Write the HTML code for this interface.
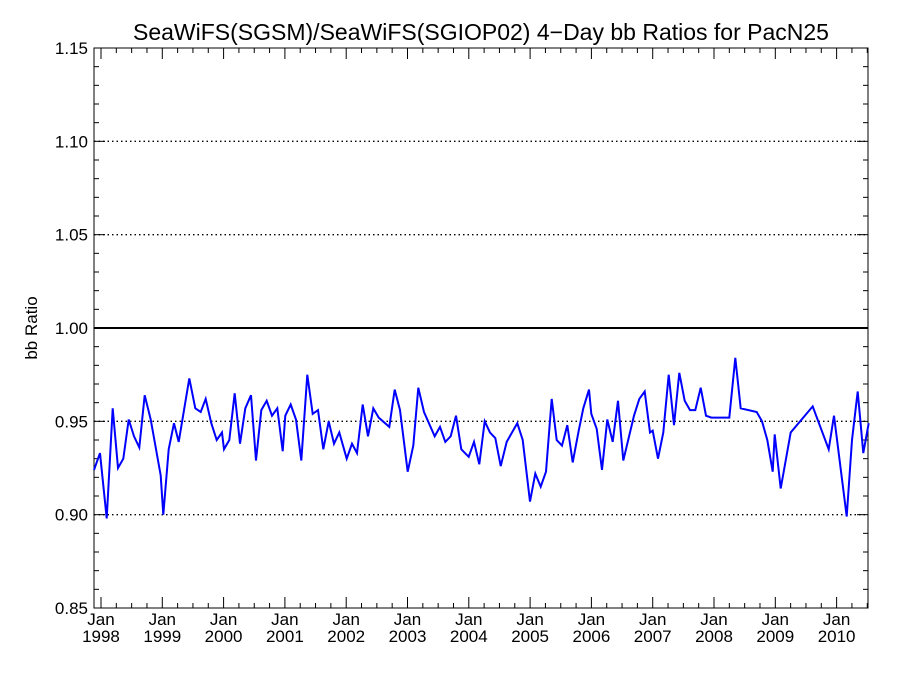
<!DOCTYPE html>
<html><head><meta charset="utf-8"><style>
html,body{margin:0;padding:0;background:#fff}
svg{display:block;font-family:"Liberation Sans",sans-serif}
</style></head><body>
<svg id="chart" width="900" height="675" viewBox="0 0 900 675" xmlns="http://www.w3.org/2000/svg">
<rect width="900" height="675" fill="#fff"/>
<text x="481" y="40" font-size="23" text-anchor="middle" fill="#000">SeaWiFS(SGSM)/SeaWiFS(SGIOP02) 4−Day bb Ratios for PacN25</text>
<text transform="translate(37,328) rotate(-90)" font-size="17" text-anchor="middle" fill="#000">bb Ratio</text>
<g id="grid"></g><g id="axes"></g><g id="series"></g>
</svg>
<script>
const years=[1998,1999,2000,2001,2002,2003,2004,2005,2006,2007,2008,2009,2010];
const yTicks=[0.85,0.90,0.95,1.00,1.05,1.10,1.15];
const yTickLabels=["0.85","0.90","0.95","1.00","1.05","1.10","1.15"];
const dates=[1997.886,1997.984,1998.093,1998.191,1998.277,1998.364,1998.452,1998.538,1998.625,1998.713,1998.811,1998.974,1999.016,1999.104,1999.191,1999.268,1999.440,1999.538,1999.626,1999.708,1999.799,1999.887,1999.974,2000.006,2000.093,2000.181,2000.267,2000.354,2000.447,2000.528,2000.615,2000.703,2000.790,2000.876,2000.964,2001.007,2001.095,2001.181,2001.268,2001.365,2001.453,2001.540,2001.626,2001.714,2001.801,2001.887,2002.008,2002.094,2002.176,2002.269,2002.355,2002.442,2002.530,2002.703,2002.791,2002.878,2003.003,2003.095,2003.176,2003.269,2003.444,2003.530,2003.617,2003.705,2003.791,2003.878,2003.998,2004.085,2004.171,2004.259,2004.346,2004.432,2004.520,2004.618,2004.705,2004.791,2004.879,2004.998,2005.085,2005.173,2005.259,2005.352,2005.434,2005.520,2005.607,2005.695,2005.793,2005.868,2005.961,2005.998,2006.086,2006.173,2006.259,2006.347,2006.434,2006.520,2006.695,2006.781,2006.869,2006.956,2007.000,2007.086,2007.173,2007.261,2007.347,2007.434,2007.522,2007.609,2007.695,2007.783,2007.869,2007.956,2008.249,2008.347,2008.435,2008.696,2008.783,2008.869,2008.957,2008.990,2009.088,2009.251,2009.610,2009.871,2009.957,2010.164,2010.251,2010.344,2010.435,2010.523];
const ratios=[0.924,0.933,0.898,0.957,0.925,0.930,0.951,0.942,0.936,0.964,0.951,0.921,0.900,0.935,0.949,0.939,0.973,0.957,0.955,0.962,0.949,0.940,0.944,0.935,0.940,0.965,0.938,0.957,0.964,0.929,0.956,0.961,0.953,0.957,0.934,0.953,0.959,0.951,0.929,0.975,0.954,0.956,0.935,0.950,0.938,0.944,0.930,0.938,0.933,0.959,0.942,0.957,0.952,0.947,0.967,0.956,0.923,0.937,0.968,0.955,0.942,0.947,0.939,0.942,0.953,0.935,0.931,0.939,0.927,0.950,0.944,0.941,0.926,0.939,0.944,0.949,0.940,0.907,0.922,0.915,0.923,0.962,0.940,0.937,0.948,0.928,0.945,0.957,0.967,0.954,0.946,0.924,0.951,0.939,0.961,0.929,0.953,0.962,0.966,0.944,0.945,0.930,0.944,0.975,0.948,0.976,0.961,0.956,0.956,0.968,0.953,0.952,0.952,0.984,0.957,0.955,0.950,0.940,0.923,0.943,0.914,0.944,0.958,0.935,0.953,0.899,0.940,0.966,0.933,0.949];
const X0=94,X1=868,Y0=608,Y1=48,TMIN=1997.886,TMAX=2010.512,VMIN=0.85,VMAX=1.15;
const xs=t=>X0+(t-TMIN)/(TMAX-TMIN)*(X1-X0);
const ys=v=>Y0-(v-VMIN)/(VMAX-VMIN)*(Y0-Y1);
const NS="http://www.w3.org/2000/svg";
function mk(tag,attrs,parent){const e=document.createElementNS(NS,tag);for(const k in attrs)e.setAttribute(k,attrs[k]);parent.appendChild(e);return e;}
const grid=document.getElementById('grid'),axes=document.getElementById('axes'),series=document.getElementById('series');
// gridlines
[0.90,0.95,1.05,1.10].forEach(v=>{const l=mk('line',{x1:X0,x2:X1,y1:ys(v),y2:ys(v),stroke:'#000','stroke-width':1.3,'stroke-dasharray':'1.5,3'},grid);

});
const ref=mk('line',{x1:X0,x2:X1,y1:ys(1.0),y2:ys(1.0),stroke:'#000','stroke-width':2},grid);


// frame
const fr=mk('rect',{x:X0,y:Y1,width:X1-X0,height:Y0-Y1,fill:'none',stroke:'#000','stroke-width':1},axes);


// y ticks
for(let i=0;i<=30;i++){const v=VMIN+i*0.01;const y=ys(v);const len=(i%5===0)?11:5;
mk('line',{x1:X0,x2:X0+len,y1:y,y2:y,stroke:'#000'},axes);mk('line',{x1:X1,x2:X1-len,y1:y,y2:y,stroke:'#000'},axes);}
yTicks.forEach((v,i)=>{const t=mk('text',{x:X0-6,y:ys(v)+6,'font-size':17,'text-anchor':'end'},axes);t.textContent=yTickLabels[i];

});
// x ticks
for(let y=1997;y<=2011;y++){for(let q=0;q<4;q++){const t=y+q*0.25;if(t<TMIN||t>TMAX)continue;const x=xs(t);const len=q===0?11:5;
mk('line',{x1:x,x2:x,y1:Y0,y2:Y0-len,stroke:'#000'},axes);mk('line',{x1:x,x2:x,y1:Y1,y2:Y1+len,stroke:'#000'},axes);}}
years.forEach(yr=>{const x=xs(yr);const g=mk('text',{x:x,y:625,'font-size':17,'text-anchor':'middle'},axes);


const a=mk('tspan',{x:x,dy:0},g);a.textContent='Jan';const b=mk('tspan',{x:x,dy:17},g);b.textContent=String(yr);});
// series
const d=dates.map((t,i)=>(i?'L':'M')+xs(t).toFixed(1)+','+ys(ratios[i]).toFixed(1)).join('');
const p=mk('path',{d:d,fill:'none',stroke:'#0000ff','stroke-width':2,'stroke-linejoin':'miter'},series);


</script>
</body></html>
